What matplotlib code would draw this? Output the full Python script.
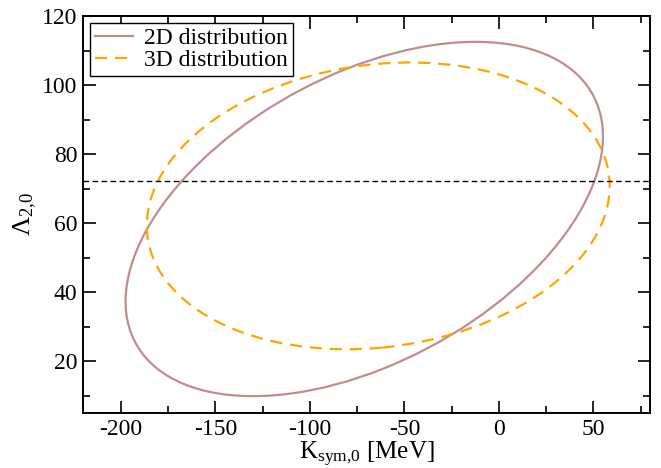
import matplotlib
matplotlib.use("Agg")
import matplotlib.pyplot as plt
from matplotlib.patches import Ellipse
from matplotlib.lines import Line2D
from matplotlib.ticker import MultipleLocator

plt.rcParams['font.family'] = ['Liberation Serif', 'DejaVu Serif']
plt.rcParams['mathtext.fontset'] = 'custom'
plt.rcParams['mathtext.rm'] = 'Liberation Serif'
plt.rcParams['mathtext.it'] = 'Liberation Serif:italic'
plt.rcParams['axes.unicode_minus'] = False

# Ellipse data: center (x, y), full width, full height, rotation angle (deg)
labels = ["2D distribution", "3D distribution"]
centers_x = [-71.2, -63.8]
centers_y = [61.2, 65.0]
widths = [257.7, 245.2]
heights = [89.0, 82.2]
angles = [12.2, 3.0]
colors = ["#bc8f8f", "#ffa500"]
styles = ["-", (0, (5.5, 3.5))]

hline_y = 72.2

fig = plt.figure(figsize=(6.61, 4.68), dpi=100)
ax = fig.add_axes([0.1256, 0.1175, 0.8578, 0.8483])

handles = []
for cx, cy, w, h, a, c, ls, lab in zip(centers_x, centers_y, widths, heights, angles, colors, styles, labels):
    e = Ellipse((cx, cy), w, h, angle=a, fill=False, edgecolor=c, linestyle=ls, linewidth=1.6)
    ax.add_patch(e)
    handles.append(Line2D([], [], color=c, linestyle=ls, linewidth=1.6, label=lab))

ax.axhline(hline_y, color="black", linestyle=(0, (4, 2.5)), linewidth=1.0)

ax.set_xlim(-220, 80)
ax.set_ylim(5, 120)
ax.xaxis.set_major_locator(MultipleLocator(50))
ax.xaxis.set_minor_locator(MultipleLocator(25))
ax.yaxis.set_major_locator(MultipleLocator(20))
ax.yaxis.set_minor_locator(MultipleLocator(10))
ax.tick_params(which='both', direction='in', top=True, right=True, labelsize=17, width=1.2)
ax.tick_params(which='major', length=9, pad=4)
ax.tick_params(which='minor', length=5)
for s in ax.spines.values():
    s.set_linewidth(1.4)

ax.set_xlabel(r"K$_{\mathrm{sym{,}0}}$ [MeV]", fontsize=18, labelpad=0)
ax.set_ylabel(r"Λ$_{\mathrm{2{,}0}}$", fontsize=19, labelpad=2)

leg = ax.legend(handles=handles, loc='upper left', fontsize=17, frameon=True, fancybox=False,
                edgecolor='black', framealpha=1, borderpad=0.2, handlelength=1.6,
                handletextpad=0.5, labelspacing=0.0, borderaxespad=0.3)
leg.get_frame().set_linewidth(1.0)

fig.savefig("out.png", dpi=100)
